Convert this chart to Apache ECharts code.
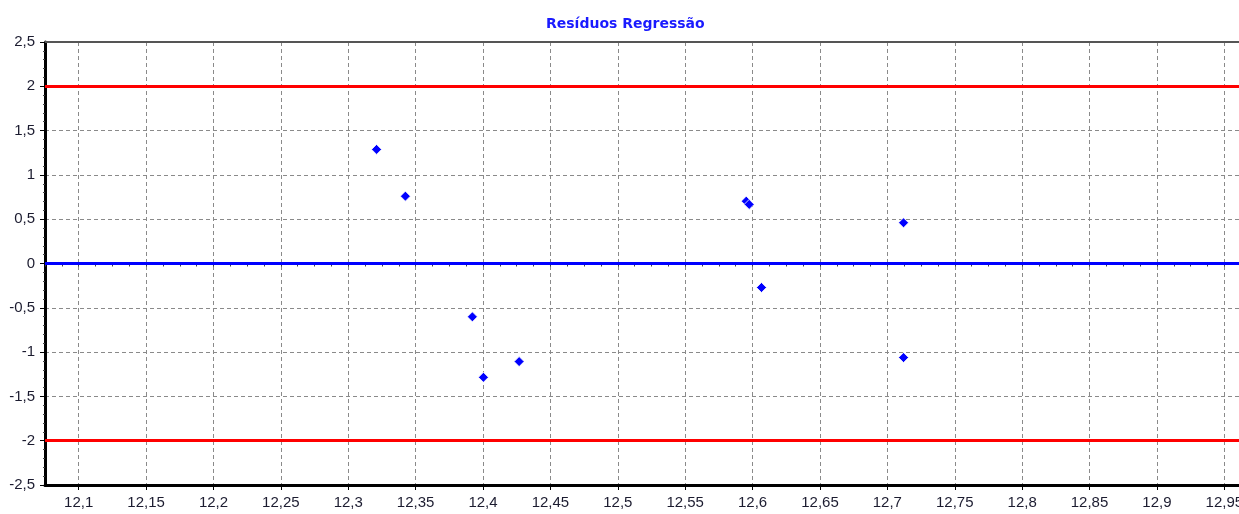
<!DOCTYPE html>
<html>
<head>
<meta charset="utf-8">
<script src="https://cdn.jsdelivr.net/npm/echarts@6/dist/echarts.min.js"></script>
<style>
html,body{margin:0;padding:0;background:#fff;}
#chart{width:1239px;height:514px;}
</style>
</head>
<body>
<div id="chart"></div>
<script>
const titleText = 'Resíduos Regressão';
const xTicks = [12.1, 12.15, 12.2, 12.25, 12.3, 12.35, 12.4, 12.45, 12.5, 12.55, 12.6, 12.65, 12.7, 12.75, 12.8, 12.85, 12.9, 12.95];
const xValues = [12.321, 12.3424, 12.3921, 12.4003, 12.4268, 12.5953, 12.5975, 12.6066, 12.712, 12.712];
const yValues = [1.288, 0.76, -0.602, -1.285, -1.107, 0.704, 0.667, -0.271, 0.46, -1.062];
const limitLines = [2, -2];
const centerLine = [0];
const xMin = 12.075, xMax = 12.975, xMinor = 0.0125;
const yMin = -2.5, yMax = 2.5, yStep = 0.5;

const fmt = v => String(Math.round(v * 10000) / 10000).replace('.', ',');
const labelFont = {fontFamily: 'Liberation Sans', fontSize: 15, color: '#1c1c30'};

const chart = echarts.init(document.getElementById('chart'), null, {renderer: 'canvas'});
chart.setOption({
  animation: false,
  backgroundColor: '#fff',
  title: {
    text: titleText, left: 541, top: 12,
    textStyle: {color: '#1a1aff', fontFamily: 'DejaVu Sans', fontWeight: 'bold', fontSize: 14}
  },
  grid: {left: 45, top: 42, bottom: 29, right: -19, show: false, containLabel: false, outerBoundsMode: 'none'},
  xAxis: [{
    type: 'value', min: xMin, max: xMax, interval: xMinor,
    axisLine: {show: true, onZero: false, lineStyle: {color: '#000', width: 3}},
    axisTick: {show: true, customValues: xTicks, length: 5, lineStyle: {color: '#000'}},
    axisLabel: Object.assign({customValues: xTicks, margin: 10, formatter: fmt, hideOverlap: false}, labelFont),
    splitLine: {show: true, lineStyle: {color: '#8a8a8a', type: [4, 3], width: 1}}
  }, {
    type: 'value', min: xMin, max: xMax, interval: xMinor, position: 'bottom',
    axisLine: {show: false},
    axisTick: {show: true, length: 3, lineStyle: {color: '#444'}},
    axisLabel: {show: false},
    splitLine: {show: false}
  }, {
    type: 'value', min: xMin, max: xMax, interval: xMinor, position: 'top',
    axisLine: {show: true, onZero: false, lineStyle: {color: '#555', width: 2}},
    axisTick: {show: false},
    axisLabel: {show: false},
    splitLine: {show: false}
  }],
  yAxis: {
    type: 'value', min: yMin, max: yMax, interval: yStep,
    axisLine: {show: true, onZero: false, lineStyle: {color: '#000', width: 3}},
    axisTick: {show: true, length: 5, lineStyle: {color: '#000'}},
    minorTick: {show: true, splitNumber: 5, length: 2, lineStyle: {color: '#444'}},
    axisLabel: Object.assign({margin: 10, formatter: fmt}, labelFont),
    splitLine: {show: true, lineStyle: {color: '#8a8a8a', type: [4, 3], width: 1}}
  },
  series: [{
    type: 'scatter', xAxisIndex: 0,
    data: xValues.map((x, i) => [x, yValues[i]]),
    symbol: 'diamond', symbolSize: 10,
    itemStyle: {color: '#0000ff', borderColor: '#fff', borderWidth: 0.8, opacity: 1},
    z: 5,
    markLine: {
      silent: true, symbol: 'none', label: {show: false},
      data: limitLines.map(v => ({yAxis: v, lineStyle: {color: '#ff0000', width: 3, type: 'solid'}}))
        .concat(centerLine.map(v => ({yAxis: v, lineStyle: {color: '#0000ff', width: 3, type: 'solid'}})))
    }
  }]
});
</script>
</body>
</html>
